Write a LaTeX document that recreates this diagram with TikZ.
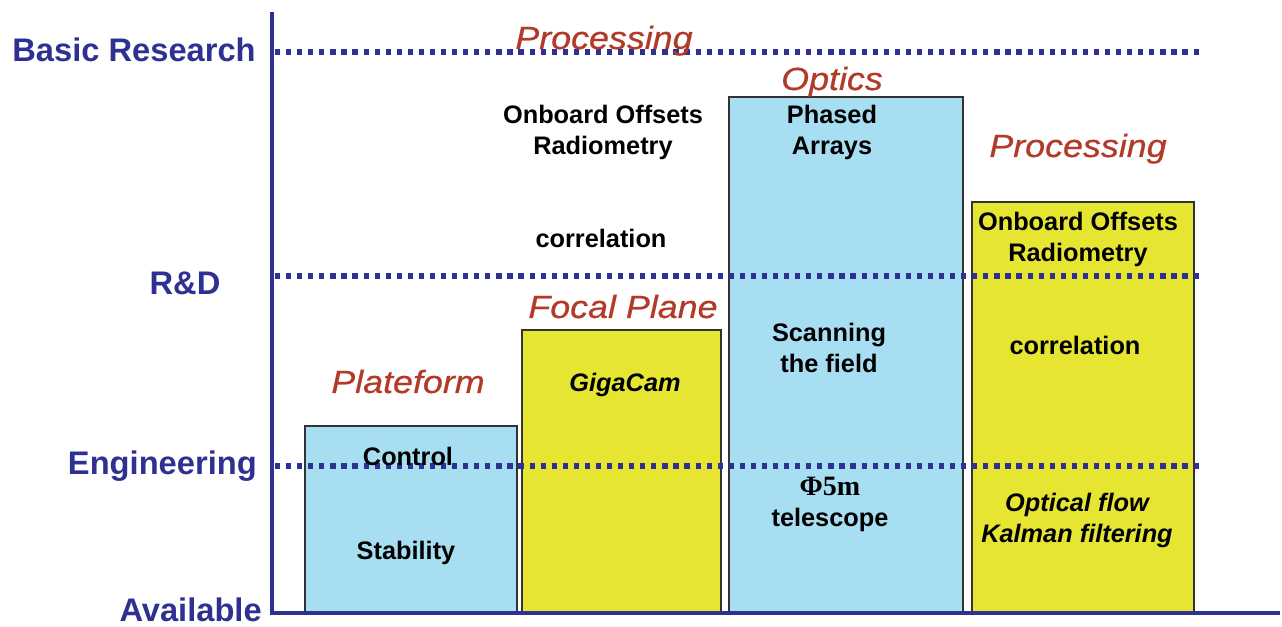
\documentclass[tikz,border=0pt]{standalone}
\usepackage{fontspec}
\setmainfont{Liberation Sans}
\newfontfamily\seriffont{Liberation Serif}
\newfontfamily\catfont[FakeStretch=1.12,FakeBold=0.6]{Liberation Sans}
\definecolor{axisblue}{RGB}{46,49,146}
\definecolor{catred}{RGB}{178,58,40}
\definecolor{barblue}{RGB}{168,222,242}
\definecolor{baryellow}{RGB}{230,230,50}
\tikzset{
  level/.style={font=\bfseries\fontsize{24.5}{29}\selectfont, text=axisblue, inner sep=0pt},
  cat/.style={font=\catfont\itshape\fontsize{24}{28}\selectfont, text=catred, inner sep=0pt, anchor=base},
  item/.style={font=\bfseries\fontsize{19}{23.5}\selectfont, align=center, inner sep=0pt, anchor=base},
  bar/.style={draw=black!80, line width=0.8pt},
  levelline/.style={axisblue, line width=3.9pt, dash pattern=on 3.9pt off 4.4pt},
}
\begin{document}
\begin{tikzpicture}[x=0.75pt,y=0.75pt]
	\useasboundingbox (0,0) rectangle (1282,627);
	% bars
	\draw[bar,fill=barblue] (305,14) rectangle (517,201);
	\draw[bar,fill=baryellow] (522,14) rectangle (721,297);
	\draw[bar,fill=barblue] (729,14) rectangle (963,530);
	\draw[bar,fill=baryellow] (972,14) rectangle (1194,425);
	% levels
	\draw[levelline] (275,575) -- (1200,575);
	\draw[levelline] (275,351) -- (1200,351);
	\draw[levelline] (275,161) -- (1200,161);
	\draw[axisblue,line width=3pt] (272,615) -- (272,14) -- (1280,14);
	\node[level,anchor=base east] (basic) at (256,565) {Basic Research};
	\node[level,anchor=base] (rnd) at (185,332) {R\&D};
	\node[level,anchor=base east] (eng) at (257,152) {Engineering};
	\node[level,anchor=base east] (avail) at (262,5) {Available};
	% categories
	\node[cat] (procL) at (604,578) {Processing};
	\node[cat] (optics) at (832,537) {Optics};
	\node[cat] (plat) at (408,234) {Plateform};
	\node[cat] (focal) at (623,309) {Focal Plane};
	\node[cat] (procR) at (1078,470) {Processing};
	% items
	\node[item] (onbL) at (603,472) {Onboard Offsets\\Radiometry};
	\node[item] (corrL) at (601,379) {correlation};
	\node[item] (phased) at (832,472) {Phased\\Arrays};
	\node[item] (scan) at (829,254) {Scanning\\the field};
	\node[item] (tele) at (830,100) {{\seriffont\bfseries\fontsize{21}{23.5}\selectfont\char"03A6 5m}\\telescope};
	\node[item] (ctrl) at (408,161) {Control};
	\node[item] (stab) at (406,67) {Stability};
	\node[item] (giga) at (625,235) {\itshape GigaCam};
	\node[item] (onbR) at (1078,365) {Onboard Offsets\\Radiometry};
	\node[item] (corrR) at (1075,272) {correlation};
	\node[item] (flow) at (1077,84) {\itshape Optical flow\\\itshape Kalman filtering};
\end{tikzpicture}
\end{document}
